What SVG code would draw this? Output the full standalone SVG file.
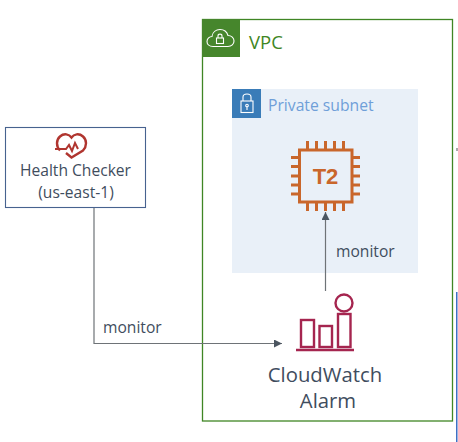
<svg xmlns="http://www.w3.org/2000/svg" width="458" height="442" viewBox="0 0 458 442">
<defs>
<marker id="arrow" markerUnits="userSpaceOnUse" markerWidth="9" markerHeight="9" refX="8" refY="4" orient="auto"><path d="M0,0L8,4L0,8Z" fill="#4b5560"/></marker>
</defs>
<style>
text{font-family:"Open Sans","Noto Sans","Liberation Sans",sans-serif;fill:#3f4d5e}
.ln{fill:none;stroke:#6e7377;stroke-width:1.2}
.chip{fill:none;stroke:#c9662b;stroke-width:3}
.cw{fill:none;stroke:#a5254f;stroke-width:2.400}
.wh{fill:none;stroke:#fff;stroke-width:1.100}
</style>
<rect width="458" height="442" fill="#fff"/>
<g id="vpc">
<rect x="202.500" y="19.500" width="250" height="401.500" fill="#fff" stroke="#3f8624" stroke-width="1.300"/>
<rect x="202" y="19" width="38" height="38" fill="#46862c"/>
<path class="wh" d="M213,46.500C209,46.500 207,44 207,41.500C207,38.500 209.500,36.500 212,36.500C212.500,32 216,29.500 220,29.500C224,29.500 227,32 228,35.500C231.500,35.500 234,38 234,41C234,44 231.500,46.500 228,46.500Z"/>
<rect class="wh" x="216.500" y="38" width="7" height="5.500"/>
<path class="wh" d="M218,38V36C218,33.500 222,33.500 222,36V38"/>
<text x="249" y="49" font-size="18.500" style="fill:#3f8624">VPC</text>
</g>
<g id="private-subnet">
<rect x="232" y="89" width="186" height="184" fill="#e9f0f8"/>
<rect x="232" y="89" width="29" height="29" fill="#3a7cb8"/>
<rect class="wh" x="241" y="101" width="12" height="11.500"/>
<path class="wh" d="M243,101V97C243,93 251,93 251,97V101"/>
<circle class="wh" cx="247" cy="105.500" r="1.300"/>
<path class="wh" d="M247,107V110"/>
<text x="268" y="111" font-size="15.700" style="fill:#6f9fd8">Private subnet</text>
</g>
<g id="t2-instance">
<rect class="chip" x="299.500" y="150" width="52.500" height="52"/>
<path class="chip" d="M307.500,141V149M316.500,141V149M325.500,141V149M334.500,141V149M343.500,141V149M307.500,203V211M316.500,203V211M325.500,203V211M334.500,203V211M343.500,203V211M291,157.500H299M291,166.500H299M291,176H299M291,185H299M291,194H299M352,157.500H360M352,166.500H360M352,176H360M352,185H360M352,194H360"/>
<text x="325.500" y="183.500" font-size="22" font-weight="700" text-anchor="middle" style="fill:#c9662b;font-family:'Liberation Sans',Arial,sans-serif">T2</text>
</g>
<g id="health-checker">
<rect x="5.500" y="127.500" width="140" height="80" fill="#fff" stroke="#47628f" stroke-width="1.100"/>
<path d="M60,150.500C56,146.500 56,140 60,136.500C64,133 69,134 71.500,137.500C74,134 79,133 83,136.500C87,140 87,146 83,150.500L71.500,157.500L66,153" fill="none" stroke="#b0352f" stroke-width="2.400"/>
<path d="M55,149H66L69,145L72,151L75,143L78,149" fill="none" stroke="#b0352f" stroke-width="2"/>
<text x="75.500" y="176" font-size="15.600" text-anchor="middle">Health Checker</text>
<text x="76" y="198" font-size="15.600" text-anchor="middle">(us-east-1)</text>
</g>
<g id="cloudwatch-alarm">
<circle class="cw" cx="344" cy="303" r="8.500"/>
<rect class="cw" x="301" y="320" width="13" height="27"/>
<rect class="cw" x="319.500" y="326" width="12.500" height="21"/>
<rect class="cw" x="338" y="314" width="12.500" height="33"/>
<path class="cw" d="M296,350H354"/>
<text x="325" y="382" font-size="20.300" text-anchor="middle">CloudWatch</text>
<text x="328" y="408" font-size="20.300" text-anchor="middle">Alarm</text>
</g>
<g id="connectors">
<path class="ln" d="M94,208V343.500H282" marker-end="url(#arrow)"/>
<path class="ln" d="M325.500,291V212" marker-end="url(#arrow)"/>
<text x="103" y="333" font-size="15.600">monitor</text>
<text x="336" y="257" font-size="15.600">monitor</text>
</g>
<g id="edge-marks">
<rect x="456" y="292" width="1.500" height="150" fill="#3f6fc4"/>
<rect x="456" y="148" width="2" height="3" fill="#aaa"/>
</g>
</svg>
